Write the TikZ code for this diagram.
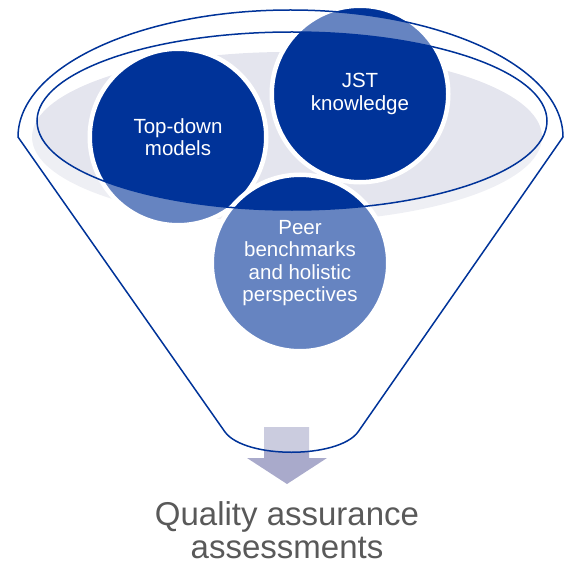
\documentclass[tikz,border=0pt]{standalone}
\usepackage{fontspec}
\setmainfont{Liberation Sans}
\definecolor{jstblue}{HTML}{003399}
\definecolor{rimgray}{HTML}{E4E5EE}
\definecolor{arrowgray}{HTML}{A9AACB}
\definecolor{labelgray}{HTML}{595959}

\tikzset{
  idea/.style={circle, fill=jstblue, draw=white, line width=4.5, minimum size=176.5,
    inner sep=0, text=white, align=center, font=\fontsize{20.5}{22.5}\selectfont},
  funnelline/.style={draw=jstblue, line width=1.5},
}

\begin{document}
\begin{tikzpicture}[x=1pt, y=-1pt]
    \useasboundingbox (0,0) rectangle (563,564);
    \fill[rimgray] (287,137) ellipse [x radius=255, y radius=85];

    \node[idea] (topdown) at (178,137) {Top-down\\models};
    \node[idea] (jst) at (360,94) {JST\\knowledge};
    \node[idea] (peer) at (300,263) {Peer\\benchmarks\\and holistic\\perspectives};

    \fill[arrowgray] (264,427) -- (309,427) -- (309,458) -- (327,458) -- (287,484)
        -- (247,458) -- (264,458) -- cycle;

    \fill[white, fill opacity=.4, even odd rule]
        (18,137) arc [start angle=180, end angle=360, x radius=272.5, y radius=127]
        -- (358,432) .. controls (338,459) and (245,459) .. (225,432) -- cycle
        (292,121) ellipse [x radius=255, y radius=89];
    \draw[funnelline]
        (18,137) arc [start angle=180, end angle=360, x radius=272.5, y radius=127]
        -- (358,432) .. controls (338,459) and (245,459) .. (225,432) -- cycle;
    \draw[funnelline] (292,121) ellipse [x radius=255, y radius=89];

    \node[text=labelgray, align=center, font=\fontsize{33}{33}\selectfont, inner sep=1]
        (quality) at (287,530) {Quality assurance\\assessments};
\end{tikzpicture}
\end{document}
